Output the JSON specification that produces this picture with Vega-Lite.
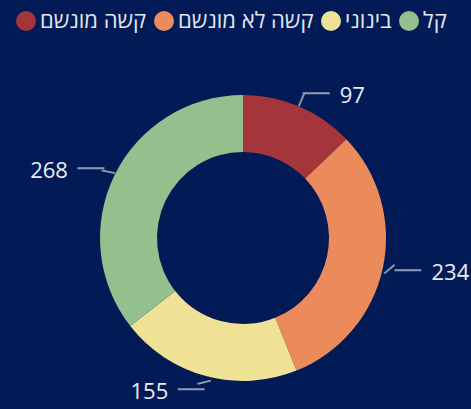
{
  "$schema": "https://vega.github.io/schema/vega-lite/v6.json",
  "width": 456,
  "height": 342,
  "autosize": {"type": "none"},
  "padding": {"left": 15, "top": 67, "right": 0, "bottom": 0},
  "background": "#021b56",
  "config": {"view": {"stroke": null}},
  "data": {
    "values": [
      {"category": "קשה מונשם", "count": 97, "rank": 1},
      {"category": "קשה לא מונשם", "count": 234, "rank": 2},
      {"category": "בינוני", "count": 155, "rank": 3},
      {"category": "קל", "count": 268, "rank": 4}
    ]
  },
  "encoding": {
    "theta": {"field": "count", "type": "quantitative", "stack": true},
    "order": {"field": "rank", "type": "quantitative"}
  },
  "layer": [
    {
      "mark": {"type": "arc", "innerRadius": 86, "outerRadius": 143},
      "encoding": {
        "color": {
          "field": "category",
          "type": "nominal",
          "scale": {
            "domain": ["קשה מונשם", "קשה לא מונשם", "בינוני", "קל"],
            "range": ["#a3353b", "#eb8b5c", "#efe196", "#93c08c"]
          },
          "legend": {
            "orient": "none",
            "legendX": 0,
            "legendY": -57,
            "direction": "horizontal",
            "title": null,
            "labelColor": "#e4e6ee",
            "labelFont": "Open Sans",
            "labelFontSize": 22,
            "symbolType": "circle",
            "symbolSize": 400,
            "symbolStrokeWidth": 0,
            "columnPadding": 6,
            "labelOffset": 3,
            "labelLimit": 300,
            "padding": 0
          }
        }
      }
    },
    {
      "mark": {"type": "text", "radius": 150, "text": "─", "fontSize": 22, "font": "DejaVu Sans", "color": "#8f97b3", "align": "center", "baseline": "middle"},
      "encoding": {
        "angle": {"field": "rank", "type": "ordinal", "scale": {"domain": [1, 2, 3, 4], "range": [-67, 12, -75, 26]}, "legend": null}
      }
    },
    {
      "mark": {"type": "text", "radius": 157, "fontSize": 22, "font": "DejaVu Sans", "color": "#8f97b3", "align": "left", "baseline": "middle", "dx": -2},
      "encoding": {
        "text": {"condition": {"test": "datum.rank <= 2", "value": "──"}, "value": ""}
      }
    },
    {
      "mark": {"type": "text", "radius": 157, "fontSize": 22, "font": "DejaVu Sans", "color": "#8f97b3", "align": "right", "baseline": "middle", "dx": 2},
      "encoding": {
        "text": {"condition": {"test": "datum.rank > 2", "value": "──"}, "value": ""}
      }
    },
    {
      "mark": {"type": "text", "radius": 157, "fontSize": 22, "font": "Open Sans", "color": "#ececf2", "align": "left", "baseline": "middle", "dx": 35, "dy": 2},
      "encoding": {
        "text": {"condition": {"test": "datum.rank <= 2", "field": "count", "type": "quantitative"}, "value": ""}
      }
    },
    {
      "mark": {"type": "text", "radius": 157, "fontSize": 22, "font": "Open Sans", "color": "#ececf2", "align": "right", "baseline": "middle", "dx": -34, "dy": 2},
      "encoding": {
        "text": {"condition": {"test": "datum.rank > 2", "field": "count", "type": "quantitative"}, "value": ""}
      }
    }
  ]
}
